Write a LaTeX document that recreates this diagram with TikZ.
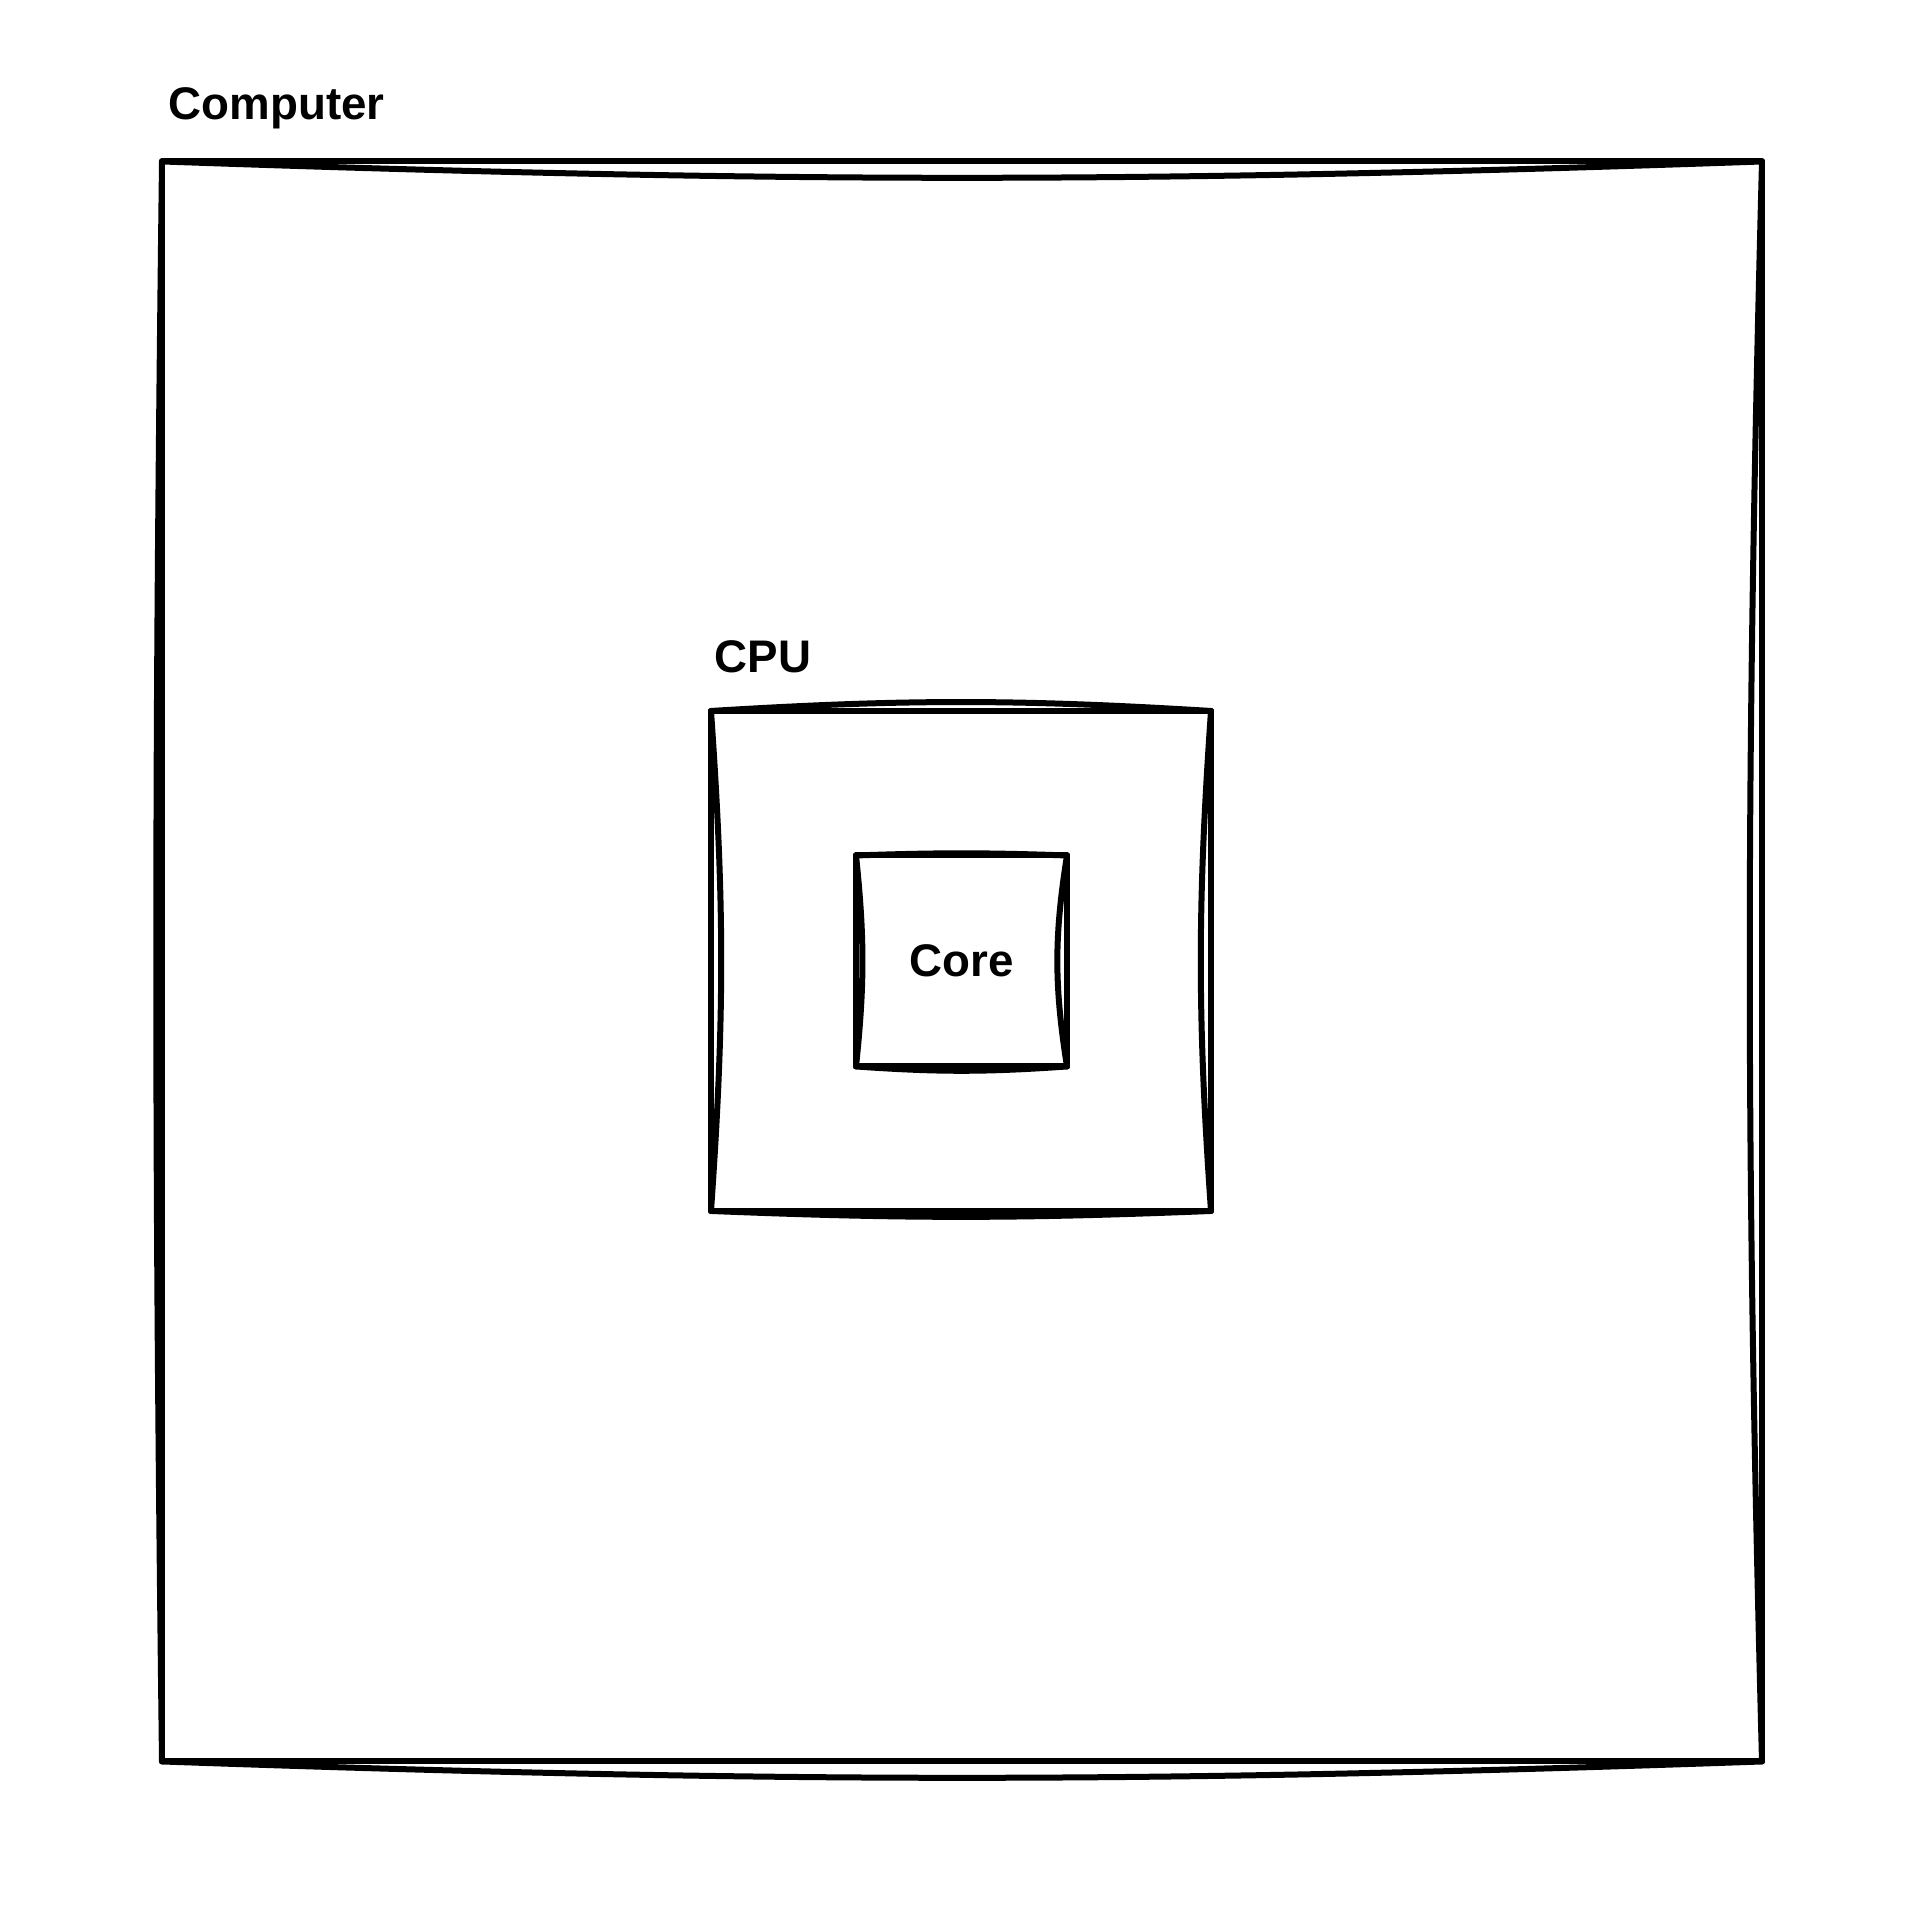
\documentclass[tikz,border=0pt]{standalone}
\usepackage{fontspec}
\setmainfont{Liberation Sans}
\usetikzlibrary{positioning,calc}

\begin{document}
\begin{tikzpicture}[
		box/.style={draw, line width=0.06cm, line join=round, inner sep=0pt,
			outer sep=0pt, minimum size=#1},
		sketch/.style={line width=0.06cm, line cap=round},
		lbl/.style={font=\fontsize{13}{15}\selectfont\bfseries, inner sep=0pt}
		]
		\useasboundingbox (0,0) rectangle (19.24,19.20);
		\node[box=16cm]   (computer) at (9.62,9.585) {};
		\node[box=5cm]    (cpu)      at (9.61,9.59)  {};
		\node[box=2.11cm] (core)     at (9.615,9.59) {};
		
		\node[lbl, anchor=base west] (computerlbl) at ([shift={(0.06,0.42)}]computer.north west) {Computer};
		\node[lbl, anchor=base west] (cpulbl)      at ([shift={(0.03,0.38)}]cpu.north west) {CPU};
		\node[lbl] (corelbl) at (core.center) {Core};
		
		\draw[sketch] (computer.north west) to[bend right=2]   (computer.north east);
		\draw[sketch] (computer.south west) to[bend right=2]   (computer.south east);
		\draw[sketch] (computer.north east) to[bend right=1.5] (computer.south east);
		\draw[sketch] (computer.north west) to[bend right=0.7] (computer.south west);
		
		\draw[sketch] (cpu.north west) to[bend left=3.5]  (cpu.north east);
		\draw[sketch] (cpu.south west) to[bend right=2.3] (cpu.south east);
		\draw[sketch] (cpu.north east) to[bend right=4]   (cpu.south east);
		\draw[sketch] (cpu.north west) to[bend left=4]    (cpu.south west);
		
		\draw[sketch] (core.north west) to[bend left=2]  (core.north east);
		\draw[sketch] (core.south west) to[bend right=4] (core.south east);
		\draw[sketch] (core.north east) to[bend right=9] (core.south east);
		\draw[sketch] (core.north west) to[bend left=6]  (core.south west);
	\end{tikzpicture}
\end{document}
